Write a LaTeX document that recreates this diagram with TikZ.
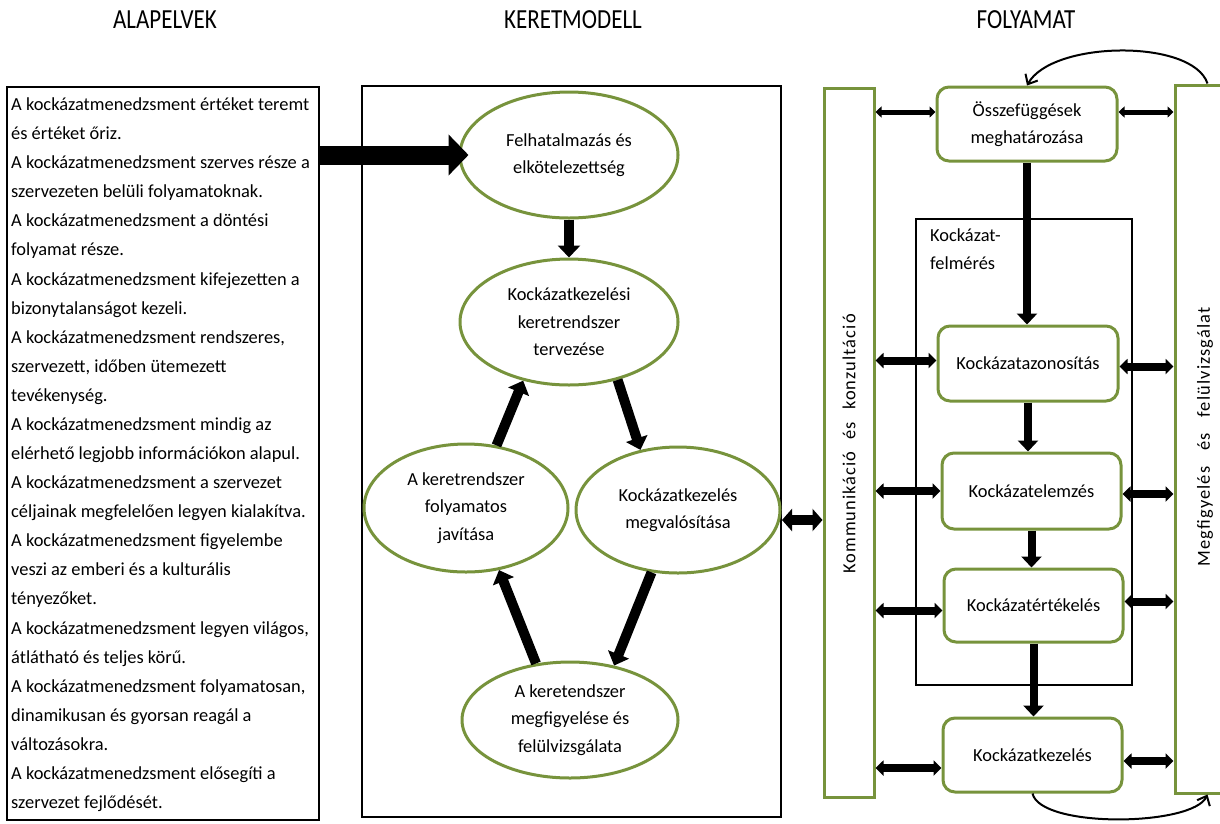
\documentclass[tikz,border=0pt]{standalone}
\usepackage{fontspec}
\setmainfont{Carlito}
\newfontfamily\spacedfont[LetterSpace=6]{Carlito}
\usepackage{graphicx}
\usetikzlibrary{shapes.geometric,arrows.meta,calc}
\definecolor{olivegr}{HTML}{77933C}
\newcommand\hdrtext[1]{\scalebox{1}[1.2]{#1}}
\begin{document}
\begin{tikzpicture}[x=1pt,y=-1pt,
  every node/.style={font=\fontsize{18.4}{27.5}\selectfont},
  ell/.style={ellipse,draw=olivegr,line width=3pt,fill=white,align=center,inner sep=0pt},
  pbox/.style={rectangle,rounded corners=12pt,draw=olivegr,line width=3pt,fill=white,align=center,inner sep=0pt,minimum width=180pt,minimum height=74pt},
  gbar/.style={rectangle,draw=olivegr,line width=3pt,fill=white,inner sep=0pt},
  blackframe/.style={rectangle,draw=black,line width=2pt,inner sep=0pt},
  hdr/.style={font=\fontsize{23}{27}\selectfont},
  marr/.style={line width=10pt,-{Triangle[length=12pt,width=22pt]}},
  varr/.style={line width=8pt,-{Triangle[length=11pt,width=20pt]}},
  dbl/.style={line width=8pt,{Triangle[length=8pt,width=15pt]}-{Triangle[length=8pt,width=15pt]}},
  thindbl/.style={line width=5pt,{Triangle[length=6pt,width=11pt]}-{Triangle[length=6pt,width=11pt]}},
  curv/.style={line width=2pt,-{Straight Barb[length=8pt,width=14pt]}}
]
\useasboundingbox (0,0) rectangle (1220,823);
\clip (0,0) rectangle (1220,823);

% headers
\node[hdr] (h1) at (165,20) {\hdrtext{ALAPELVEK}};
\node[hdr] (h2) at (573,20) {\hdrtext{KERETMODELL}};
\node[hdr] (h3) at (1026,20) {\hdrtext{FOLYAMAT}};

% left box
\node[blackframe,minimum width=312pt,minimum height=733pt] (lb) at (163,453.5) {};
\node[anchor=north west,inner sep=0pt,align=left,font=\fontsize{18.4}{29.08}\selectfont] (lt) at (11,90) {\strut A kockázatmenedzsment értéket teremt\\
és értéket őriz.\\
A kockázatmenedzsment szerves része a\\
szervezeten belüli folyamatoknak.\\
A kockázatmenedzsment a döntési\\
folyamat része.\\
A kockázatmenedzsment kifejezetten a\\
bizonytalanságot kezeli.\\
A kockázatmenedzsment rendszeres,\\
szervezett, időben ütemezett\\
tevékenység.\\
A kockázatmenedzsment mindig az\\
elérhető legjobb információkon alapul.\\
A kockázatmenedzsment a szervezet\\
céljainak megfelelően legyen kialakítva.\\
A kockázatmenedzsment figyelembe\\
veszi az emberi és a kulturális\\
tényezőket.\\
A kockázatmenedzsment legyen világos,\\
átlátható és teljes körű.\\
A kockázatmenedzsment folyamatosan,\\
dinamikusan és gyorsan reagál a\\
változásokra.\\
A kockázatmenedzsment elősegíti a\\
szervezet fejlődését.};

% middle box
\node[blackframe,minimum width=419pt,minimum height=731pt] (mb) at (571.5,451.5) {};
\node[ell,minimum width=218pt,minimum height=126pt] (e1) at (569,155) {Felhatalmazás és\\elkötelezettség};
\node[ell,minimum width=218pt,minimum height=126pt] (e2) at (569,322) {Kockázatkezelési\\keretrendszer\\tervezése};
\node[ell,minimum width=204pt,minimum height=128pt] (e3) at (466,508) {A keretrendszer\\folyamatos\\javítása};
\node[ell,minimum width=204pt,minimum height=126pt] (e4) at (678,510) {Kockázatkezelés\\megvalósítása};
\node[ell,minimum width=216pt,minimum height=116pt] (e5) at (570,720) {A keretendszer\\megfigyelése és\\felülvizsgálata};

\draw[marr] (e1.south) -- (e2.north);
\draw[marr] (e2.-50) -- (e4.122);
\draw[marr] (e4.-113) -- (e5.51);
\draw[marr] (e5.121) -- (e3.-62);
\draw[marr] (e3.64) -- (e2.-128);

% big arrow
\draw[line width=19pt,-{Triangle[length=20pt,width=40pt]}] (lb.east |- e1.west) -- ([xshift=10pt]e1.west);

% right section
\node[rectangle,draw=black,line width=1.5pt,minimum width=216pt,minimum height=466pt,inner sep=0pt] (felm) at (1024,452) {};
\node[anchor=north west,inner sep=0pt,align=left,font=\fontsize{18.4}{28}\selectfont] (felml) at (930,222) {\strut Kockázat-\\felmérés};

\node[gbar,minimum width=50pt,minimum height=709pt] (kk) at (849,442.5) {};
\node[gbar,minimum width=65pt,minimum height=708pt] (mf) at (1207.5,439) {};
\node[rotate=90,inner sep=0pt] (kkl) at (849,444) {\spacedfont Kommunikáció\hspace{12pt}és\hspace{12pt}konzultáció};
\node[rotate=90,inner sep=0pt] (mfl) at (1205,437) {\spacedfont Megfigyelés\hspace{16pt}és\hspace{16pt}felülvizsgálat};

\node[pbox] (osz) at (1027,124) {Összefüggések\\meghatározása};
\node[pbox,minimum height=75pt] (az) at (1028,363.5) {Kockázatazonosítás};
\node[pbox,minimum width=179pt,minimum height=76pt] (el) at (1031.5,491) {Kockázatelemzés};
\node[pbox,minimum width=179pt,minimum height=73pt] (ert) at (1033.5,605.5) {Kockázatértékelés};
\node[pbox,minimum width=179pt,minimum height=74pt] (kez) at (1032.5,755) {Kockázatkezelés};

% vertical arrows
\draw[varr] (osz.south) -- (osz.south |- az.north);
\draw[varr] (az.south) -- (az.south |- el.north);
\draw[varr] (el.south) -- (el.south |- ert.north);
\draw[varr] (ert.south) -- (ert.south |- kez.north);

% horizontal double arrows
\draw[thindbl] ($(kk.east |- osz.west)+(0,-12)$) -- ($(osz.west)+(0,-12)$);
\draw[thindbl] ($(osz.east)+(0,-12)$) -- ($(mf.west |- osz.east)+(0,-12)$);
\draw[dbl] ($(kk.east |- az.west)+(0,-3)$) -- ($(az.west)+(0,-3)$);
\draw[dbl] ($(az.east)+(0,3)$) -- ($(mf.west |- az.east)+(0,3)$);
\draw[dbl] (kk.east |- el.west) -- (el.west);
\draw[dbl] ($(el.east)+(0,3)$) -- ($(mf.west |- el.east)+(0,3)$);
\draw[dbl] ($(kk.east |- ert.west)+(0,5)$) -- ($(ert.west)+(0,5)$);
\draw[dbl] ($(ert.east)+(0,-4)$) -- ($(mf.west |- ert.east)+(0,-4)$);
\draw[dbl] ($(kk.east |- kez.west)+(0,13)$) -- ($(kez.west)+(0,13)$);
\draw[dbl] ($(kez.east)+(0,6)$) -- ($(mf.west |- kez.east)+(0,6)$);

% middle to right double arrow
\draw[line width=10pt,{Triangle[length=10pt,width=22pt]}-{Triangle[length=10pt,width=22pt]}] ($(mb.east |- e4.east)+(0,10)$) -- ($(kk.west |- e4.east)+(0,10)$);

% curved arrows
\draw[curv] (mf.north) .. controls +(-15,-45) and +(25,-45) .. (osz.north);
\draw[curv] (kez.south) .. controls +(8,35) and +(-15,32) .. (mf.south);
\end{tikzpicture}
\end{document}
